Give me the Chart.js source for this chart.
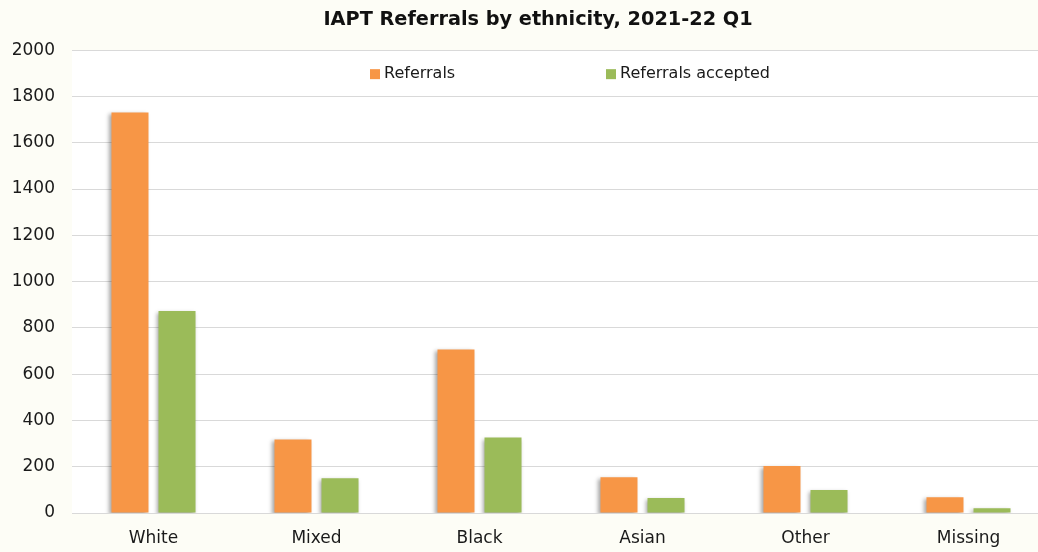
<!DOCTYPE html>
<html lang="en">
<head>
    <meta charset="UTF-8">
    <title>IAPT Referrals by ethnicity</title>
    <script src="https://cdn.jsdelivr.net/npm/chart.js"></script>
    <style>
        html, body { margin: 0; padding: 0; background: #fdfdf6; overflow: hidden; }
        /* the chart is wider than the window; its right margin is cut off */
        #wrap { width: 1076px; height: 552px; }
    </style>
</head>
<body>
    <div id="wrap"><canvas id="ethnicityChart"></canvas></div>

    <script>
        const ethnicities = ['White', 'Mixed', 'Black', 'Asian', 'Other', 'Missing'];
        const referrals = [1731, 318, 707, 155, 203, 68];
        const referralsAccepted = [873, 150, 326, 65, 99, 20];
        const yTicks = [0, 200, 400, 600, 800, 1000, 1200, 1400, 1600, 1800, 2000];

        const FONT = "'DejaVu Sans', sans-serif";

        // cream page, white plot area
        const backdrop = {
            id: 'backdrop',
            beforeDraw(chart) {
                const { ctx, chartArea: a } = chart;
                ctx.save();
                ctx.fillStyle = '#fdfdf6';
                ctx.fillRect(0, 0, chart.width, chart.height);
                ctx.fillStyle = '#ffffff';
                ctx.fillRect(a.left, a.top, a.right - a.left, a.bottom - a.top);
                ctx.restore();
            }
        };

        // soft drop shadow behind the bars
        const barShadow = {
            id: 'barShadow',
            beforeDatasetsDraw(chart) {
                const ctx = chart.ctx;
                ctx.save();
                ctx.shadowColor = 'rgba(0, 0, 0, 0.35)';
                ctx.shadowBlur = 4;
                ctx.shadowOffsetX = -2;
                ctx.shadowOffsetY = 2;
            },
            afterDatasetsDraw(chart) {
                chart.ctx.restore();
            }
        };

        // legend sits inside the plot, two widely spaced entries
        const innerLegend = {
            id: 'innerLegend',
            afterDraw(chart) {
                const { ctx, chartArea: a } = chart;
                const y = a.top + 24;
                const xs = [370, 606];
                ctx.save();
                ctx.font = '16px ' + FONT;
                ctx.textBaseline = 'middle';
                chart.data.datasets.forEach((ds, i) => {
                    ctx.fillStyle = ds.backgroundColor;
                    ctx.fillRect(xs[i], y - 5, 10, 10);
                    ctx.fillStyle = '#1a1a1a';
                    ctx.fillText(ds.label, xs[i] + 14, y);
                });
                ctx.restore();
            }
        };

        const ctx = document.getElementById('ethnicityChart').getContext('2d');
        const ethnicityChart = new Chart(ctx, {
            type: 'bar',
            data: {
                labels: ethnicities,
                datasets: [{
                    label: 'Referrals',
                    data: referrals,
                    backgroundColor: '#f79646'
                }, {
                    label: 'Referrals accepted',
                    data: referralsAccepted,
                    backgroundColor: '#9bbb59'
                }]
            },
            options: {
                responsive: true,
                maintainAspectRatio: false,
                animation: false,
                layout: { padding: 0 },
                categoryPercentage: 0.577,
                barPercentage: 0.787,
                plugins: {
                    legend: { display: false },
                    tooltip: { enabled: false },
                    title: {
                        display: true,
                        text: 'IAPT Referrals by ethnicity, 2021-22 Q1',
                        color: '#111',
                        font: { family: FONT, size: 19.3, weight: 'bold', lineHeight: 1.2 },
                        padding: { top: 8, bottom: 19 }
                    }
                },
                scales: {
                    x: {
                        grid: { display: false, drawTicks: false },
                        border: { color: '#d9d9d9' },
                        ticks: {
                            color: '#1a1a1a',
                            font: { family: FONT, size: 17 },
                            padding: 15
                        },
                        afterFit(scale) { scale.height = 39; }
                    },
                    y: {
                        min: 0,
                        max: 2000,
                        afterBuildTicks(scale) {
                            scale.ticks = yTicks.map(v => ({ value: v }));
                        },
                        grid: { color: '#d9d9d9', drawTicks: false },
                        border: { display: false },
                        ticks: {
                            color: '#1a1a1a',
                            font: { family: FONT, size: 17 },
                            padding: 17,
                            callback: v => String(v)
                        },
                        afterFit(scale) { scale.width = 72; }
                    },
                    // empty right-hand margin, keeps the title centred on the full width
                    yRight: {
                        position: 'right',
                        min: 0,
                        max: 2000,
                        grid: { display: false, drawTicks: false },
                        border: { display: false },
                        ticks: { display: false },
                        afterFit(scale) { scale.width = 26; }
                    }
                }
            },
            plugins: [backdrop, barShadow, innerLegend]
        });
    </script>
</body>
</html>
